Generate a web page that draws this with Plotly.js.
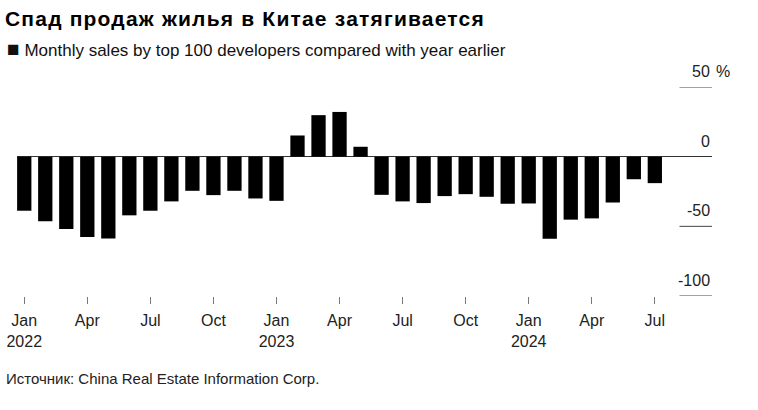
<!DOCTYPE html>
<html>
<head>
<meta charset="utf-8">
<script src="https://cdn.plot.ly/plotly-3.0.1.min.js"></script>
<style>
html,body{margin:0;padding:0;background:#fff;}
#chart{width:758px;height:410px;}
#chart .gtitle{letter-spacing:1.2px;}
</style>
</head>
<body>
<div id="chart"></div>
<script>
const months = ['2022-01','2022-02','2022-03','2022-04','2022-05','2022-06','2022-07','2022-08','2022-09','2022-10','2022-11','2022-12',
                '2023-01','2023-02','2023-03','2023-04','2023-05','2023-06','2023-07','2023-08','2023-09','2023-10','2023-11','2023-12',
                '2024-01','2024-02','2024-03','2024-04','2024-05','2024-06','2024-07'];
const salesChange = [-38.8,-46.4,-51.9,-57.6,-58.8,-42.1,-38.8,-32.1,-24.5,-27.6,-24.5,-30.0,
                     -31.7,15.2,29.8,32.1,7.1,-27.4,-32.1,-33.3,-28.3,-26.9,-28.8,-33.8,
                     -33.6,-59.0,-45.2,-44.3,-32.9,-16.2,-19.0];
const xTickVals = ['2022-01','2022-04','2022-07','2022-10','2023-01','2023-04','2023-07','2023-10','2024-01','2024-04','2024-07'];
const xTickText = ['Jan<br>2022','Apr','Jul','Oct','Jan<br>2023','Apr','Jul','Oct','Jan<br>2024','Apr','Jul'];
const yTickVals = [-100,-50,0,50];
const yTickText = ['-100','-50','0','50'];
const yUnit = '%';
const titleText = 'Спад продаж жилья в Китае затягивается';
const legendText = 'Monthly sales by top 100 developers compared with year earlier';
const sourceText = 'Источник: China Real Estate Information Corp.';

const FONT = 'Liberation Sans, Arial, sans-serif';
const W = 758, H = 410, ML = 17, MR = 46, MT = 87, MB = 114;
const PW = W - ML - MR, PH = H - MT - MB;
const px2x = p => (p - ML) / PW;
const px2y = p => (H - MB - p) / PH;

const annotations = [];
yTickVals.forEach((v, i) => {
  annotations.push({xref:'paper', yref:'y', x:1, y:v, xanchor:'right', yanchor:'bottom', yshift:5,
    text:yTickText[i], showarrow:false, font:{family:FONT, size:16, color:'#222'}});
});
annotations.push({xref:'paper', yref:'y', x:1, y:yTickVals[yTickVals.length-1], xanchor:'left', yanchor:'bottom', yshift:5, xshift:2,
  text:yUnit, showarrow:false, font:{family:FONT, size:16, color:'#222'}});
annotations.push({xref:'paper', yref:'paper', x:px2x(5), y:px2y(48), xanchor:'left', yanchor:'middle',
  text:'<span style="font-size:21px">■</span> ' + legendText, showarrow:false, font:{family:FONT, size:17, color:'#111'}});
annotations.push({xref:'paper', yref:'paper', x:px2x(4), y:px2y(378), xanchor:'left', yanchor:'middle',
  text:sourceText, showarrow:false, font:{family:FONT, size:15, color:'#222'}});

const shapes = yTickVals.filter(v => v !== 0).map(v => ({
  type:'line', xref:'paper', yref:'y', x0:px2x(679.5), x1:1, y0:v, y1:v,
  line:{color:'#444', width:1}
}));

const trace = {
  type:'bar', x:months, y:salesChange,
  marker:{color:'#000', line:{width:0}},
  hoverinfo:'x+y'
};

const layout = {
  width:W, height:H,
  margin:{l:ML, r:MR, t:MT, b:MB, pad:0},
  paper_bgcolor:'#fff', plot_bgcolor:'#fff',
  showlegend:false,
  bargap:0.32,
  title:{text:'<b>' + titleText + '</b>', x:5/W, xref:'container', xanchor:'left',
         y:1 - 19/H, yref:'container', yanchor:'middle', font:{family:FONT, size:21, color:'#000'}},
  xaxis:{type:'category', range:[-0.345, 32.72], tickmode:'array', tickvals:xTickVals, ticktext:xTickText,
         ticks:'outside', ticklen:7, tickwidth:1, tickcolor:'#777', showgrid:false, zeroline:false, showline:false,
         ticklabelstandoff:3,
         tickfont:{family:FONT, size:16, color:'#222'}, fixedrange:true},
  yaxis:{range:[-100, 50], showticklabels:false, ticks:'', showgrid:false, zeroline:true, zerolinecolor:'#333',
         zerolinewidth:1, showline:false, fixedrange:true},
  annotations:annotations,
  shapes:shapes
};

Plotly.newPlot('chart', [trace], layout, {displayModeBar:false, staticPlot:true});
</script>
</body>
</html>
